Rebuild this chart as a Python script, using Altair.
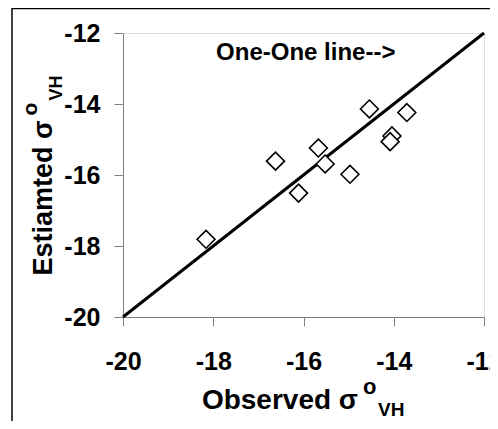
import altair as alt
import pandas as pd

# ---- data ----
observed = [-18.16, -16.62, -16.11, -15.67, -15.52, -14.97, -14.54, -14.04, -14.08, -13.71]
estimated = [-17.81, -15.61, -16.51, -15.24, -15.69, -15.98, -14.14, -14.90, -15.06, -14.24]
one_one_x = [-20, -12]
one_one_y = [-20, -12]
tick_values = [-20, -18, -16, -14, -12]
annotation = ["One-One line-->"]
ann_x = [-15.95]
ann_y = [-12.76]

FONT = "Liberation Sans"
W, H = 361, 284
AXIS_GREY = "#808080"

pts = pd.DataFrame({"obs": observed, "est": estimated})
line_df = pd.DataFrame({"obs": one_one_x, "est": one_one_y})
ann_df = pd.DataFrame({"obs": ann_x, "est": ann_y, "t": annotation})

xscale = alt.Scale(domain=[-20, -12], nice=False, zero=False)
yscale = alt.Scale(domain=[-20, -12], nice=False, zero=False)

common = dict(title=None, grid=False, values=tick_values,
              labelExpr="datum.value + ''",
              labelFont=FONT, labelFontSize=25, labelFontWeight=700,
              labelColor="black", domainColor=AXIS_GREY, tickColor=AXIS_GREY,
              domainWidth=1, tickWidth=1, tickSize=9,
              labelFlush=False, labelOverlap=False)
xaxis = alt.Axis(labelPadding=43, labelBaseline="alphabetic", **common)
yaxis = alt.Axis(labelPadding=14, labelBaseline="middle", **common)

one_row = pd.DataFrame({"k": [0]})

line = alt.Chart(line_df).mark_line(color="black", strokeWidth=3).encode(
    x=alt.X("obs:Q", scale=xscale, axis=xaxis),
    y=alt.Y("est:Q", scale=yscale, axis=yaxis),
)

points = alt.Chart(pts).mark_point(shape="diamond", size=320, filled=False,
                                   color="black", strokeWidth=1.6, fill="white",
                                   fillOpacity=1).encode(
    x=alt.X("obs:Q", scale=xscale, axis=xaxis),
    y=alt.Y("est:Q", scale=yscale, axis=yaxis),
)

ann = alt.Chart(ann_df).mark_text(font=FONT, fontSize=24, fontWeight="bold",
                                  align="center", baseline="alphabetic",
                                  color="black").encode(
    x=alt.X("obs:Q", scale=xscale, axis=xaxis),
    y=alt.Y("est:Q", scale=yscale, axis=yaxis),
    text="t:N",
)

# outer frame (left and top edges of the figure border)
frame_left = alt.Chart(one_row).mark_rule(color="black", strokeWidth=1.5).encode(
    x=alt.value(-111), y=alt.value(-25), y2=alt.value(400))
frame_top = alt.Chart(one_row).mark_rule(color="black", strokeWidth=1.5).encode(
    x=alt.value(-111), x2=alt.value(480), y=alt.value(-24.5))

def txt(s, x, y, size, angle=0, align="left"):
    props = dict(font=FONT, fontSize=size, fontWeight="bold", color="black",
                 align=align, baseline="alphabetic", text=s)
    if angle:
        props["angle"] = angle
    return alt.Chart(one_row).mark_text(**props).encode(x=alt.value(x), y=alt.value(y))

# x axis title: Observed σ°VH
xt_main = txt("Observed σ", 235, 376, 28, align="right")
xt_sup = txt("o", 240, 361, 22)
xt_sub = txt("VH", 255, 383, 19)

# y axis title: Estiamted σ°VH (rotated)
yt_main = txt("Estiamted σ", -71, 87.5, 27, angle=270, align="right")
yt_sup = txt("o", -86, 82.5, 21, angle=270, align="left")
yt_sub = txt("VH", -61, 67.5, 18, angle=270, align="left")

chart = alt.layer(
    frame_left, frame_top, line, points, ann,
    xt_main, xt_sup, xt_sub, yt_main, yt_sup, yt_sub,
).properties(
    width=W, height=H,
    autosize=alt.AutoSizeParams(type="none"),
    padding={"left": 115, "top": 25, "right": 6, "bottom": 104},
).configure_view(stroke=None).configure(background="white").configure_axis(
    labelFont=FONT, labelFontSize=25, labelFontWeight=700, labelColor="black",
)

chart.save("out.html", embed_options={"renderer": "svg", "actions": False})
